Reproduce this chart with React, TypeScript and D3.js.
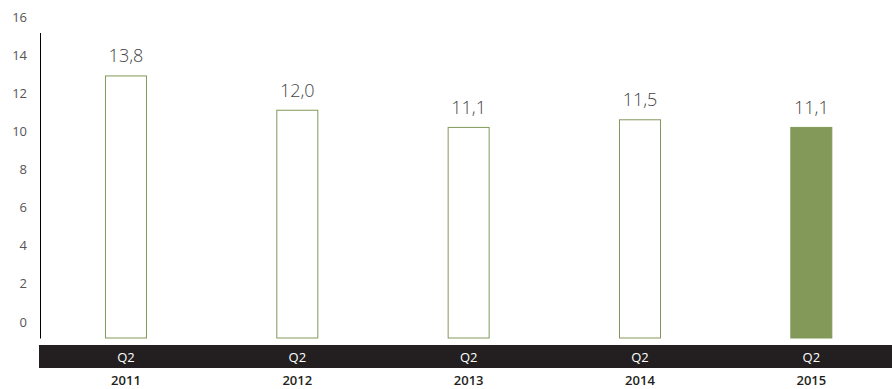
import React from "react";
import * as d3 from "d3";

const categories = ["2011", "2012", "2013", "2014", "2015"];
const quarters = ["Q2", "Q2", "Q2", "Q2", "Q2"];
const values = [13.8, 12.0, 11.1, 11.5, 11.1];
const valueLabels = ["13,8", "12,0", "11,1", "11,5", "11,1"];
const tickValues = [0, 2, 4, 6, 8, 10, 12, 14, 16];

const W = 892;
const H = 389;
const GREEN = "#82995a";
const DARK = "#231f20";
const FONT = "'Open Sans', 'Noto Sans', sans-serif";

export default function App() {
  const x = d3.scaleBand<string>().domain(categories).range([40.3, 897]).paddingInner(0).paddingOuter(0);
  const barW = 42;
  const yAxis = d3.scaleLinear().domain([0, 16]).range([321.5, 16.5]);
  const yBar = d3.scaleLinear().domain([0, 16]).range([338.5, 33.5]);

  return (
    <svg width={W} height={H} style={{ position: "absolute", left: 0, top: 0 }} fontFamily={FONT}>
      <rect x={0} y={0} width={W} height={H} fill="#fff" />
      {tickValues.map((t) => (
        <text key={t} x={27} y={yAxis(t)} textAnchor="end" dominantBaseline="central" fontSize={13} fill="#555">
          {t}
        </text>
      ))}
      <line x1={40.5} x2={40.5} y1={33} y2={338.5} stroke="#000" strokeWidth={1} />
      {categories.map((c, i) => {
        const cx = (x(c) as number) + x.bandwidth() / 2;
        const top = yBar(values[i]);
        const last = i === categories.length - 1;
        return (
          <g key={c}>
            <rect
              x={cx - barW / 2 + 0.5}
              y={top + 0.5}
              width={barW - 1}
              height={yBar(0) - top - 1}
              fill={last ? GREEN : "#fff"}
              stroke={GREEN}
              strokeWidth={1}
            />
            <text x={cx} y={top - 13} textAnchor="middle" fontSize={18} fill="#444" fontWeight={300}>
              {valueLabels[i]}
            </text>
          </g>
        );
      })}
      <rect x={39} y={345} width={W - 39} height={23} fill={DARK} />
      {categories.map((c, i) => {
        const cx = (x(c) as number) + x.bandwidth() / 2;
        return (
          <g key={"l" + c}>
            <text x={cx} y={357} textAnchor="middle" dominantBaseline="central" fontSize={13} fill="#fff">
              {quarters[i]}
            </text>
            <text x={cx} y={380} textAnchor="middle" dominantBaseline="central" fontSize={13} fill={DARK} fontWeight={600}>
              {c}
            </text>
          </g>
        );
      })}
    </svg>
  );
}
